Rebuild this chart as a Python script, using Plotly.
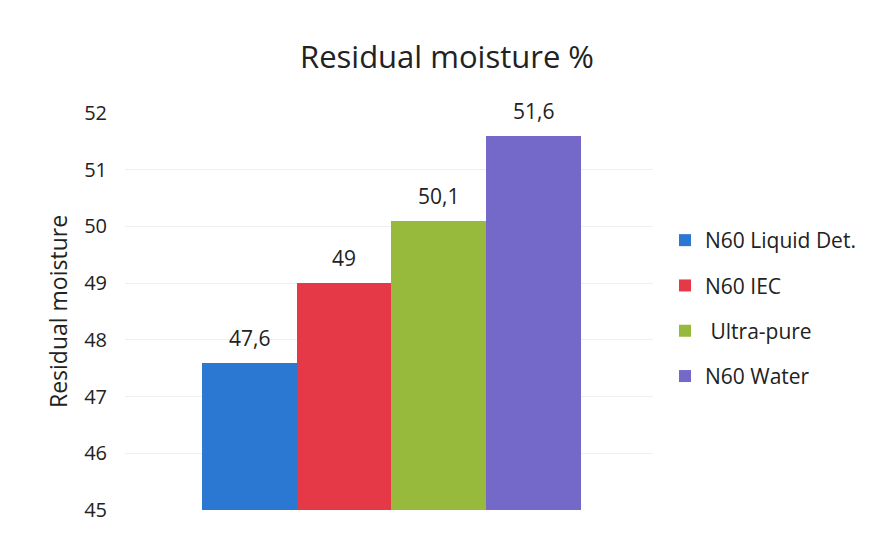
import plotly.graph_objects as go

categories = ["N60 Liquid Det.", "N60 IEC", " Ultra-pure", "N60 Water"]
values = [47.6, 49, 50.1, 51.6]
colors = ["#2a78d2", "#e53947", "#97b93c", "#7469c9"]
y_ticks = [45, 46, 47, 48, 49, 50, 51, 52]

FONT = "'Open Sans', sans-serif"

fig = go.Figure()
for name, val, col in zip(categories, values, colors):
    fig.add_trace(go.Bar(
        x=[name], y=[val], name=name, marker=dict(color=col, line=dict(width=0)),
        legendgroup=name, showlegend=True,
    ))
    fig.add_annotation(
        x=name, y=val, text=f"{val:g}".replace(".", ","), showarrow=False,
        yshift=25, font=dict(size=21, color="#222", family=FONT),
    )

fig.update_layout(
    width=871, height=535,
    paper_bgcolor="white", plot_bgcolor="white",
    margin=dict(l=125, r=216, t=113, b=21),
    barmode="overlay", bargap=0,
    font=dict(family=FONT, color="#222"),
    title=dict(text="Residual moisture %", x=447 / 871, xanchor="center",
               y=1 - 57 / 535, yanchor="middle", yref="container",
               font=dict(size=31, color="#222", family=FONT)),
    xaxis=dict(showticklabels=False, showgrid=False, zeroline=False,
               range=[-1.31, 4.26], showline=False, ticks=""),
    yaxis=dict(range=[45, 52], tickvals=y_ticks, ticks="", showline=False,
               gridcolor="#efefef", gridwidth=1, zeroline=False,
               tickfont=dict(size=20, color="#222"), ticklabelstandoff=17,
               title=dict(text="Residual moisture", font=dict(size=23, color="#222"),
                          standoff=10)),
    legend=dict(xref="container", yref="container",
                x=665 / 871, xanchor="left", y=(535 - 220) / 535, yanchor="top",
                font=dict(size=21, color="#222"), traceorder="grouped",
                tracegroupgap=15, itemwidth=30, bgcolor="rgba(0,0,0,0)"),
)

fig.write_html("out.html")
